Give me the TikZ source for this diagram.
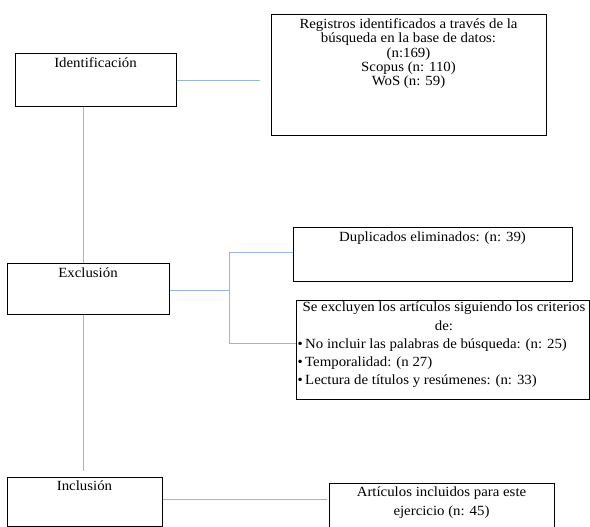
\documentclass[tikz,border=0pt]{standalone}
\usepackage{fontspec}
\setmainfont{Liberation Serif}[FakeStretch=1.06]
\definecolor{linkblue}{RGB}{150,180,230}
\begin{document}
\begin{tikzpicture}[x=1bp,y=-1bp,
  box/.style={draw=black, line width=1bp, inner sep=0pt, anchor=north west},
  conn/.style={draw=linkblue, line width=1bp},
  txt/.style={inner sep=0pt, anchor=north, align=center, font=\fontsize{14bp}{14.2bp}\selectfont},
  wide/.style={font=\fontsize{14bp}{18.3bp}\selectfont}]
\useasboundingbox (0,0) rectangle (590,527);
\clip (0,0) rectangle (590,527);

% boxes
\node[box, minimum width=161bp, minimum height=53bp] (ident) at (15,53) {};
\node[box, minimum width=275bp, minimum height=121bp] (reg) at (271,14) {};
\node[box, minimum width=162bp, minimum height=51bp] (excl) at (7,263) {};
\node[box, minimum width=279bp, minimum height=54bp] (dup) at (293,227) {};
\node[box, minimum width=293bp, minimum height=99bp] (crit) at (296,300) {};
\node[box, minimum width=155bp, minimum height=49bp] (incl) at (7,477) {};
\node[box, minimum width=225bp, minimum height=60bp] (art) at (329,483) {};

% texts
\node[txt] (identt) at (95.5,57) {Identificación};
\node[txt] (regt) at (408.5,18.6) {Registros identificados a través de la\\búsqueda en la base de datos:\\(n:169)\\Scopus (n: 110)\\WoS (n: 59)};
\node[txt] (exclt) at (88,267.6) {Exclusión};
\node[txt] (dupt) at (432.5,232) {Duplicados eliminados: (n: 39)};
\node[txt, wide] (critt) at (444,302) {Se excluyen los artículos siguiendo los criterios\\de:};
\node[txt, wide, anchor=north west, align=left] (critl) at (297.4,338.3) {•\kern2.4bp No incluir las palabras de búsqueda: (n: 25)\\•\kern2.4bp Temporalidad: (n 27)\\•\kern2.4bp Lectura de títulos y resúmenes: (n: 33)};
\node[txt] (inclt) at (84.5,481) {Inclusión};
\node[txt, font=\fontsize{14bp}{19bp}\selectfont] (artt) at (441.5,487) {Artículos incluidos para este\\ejercicio (n: 45)};

% connectors
\coordinate (e1) at (260,81);
\draw[conn] (ident.east |- e1) -- (e1);
\coordinate (vx) at (83.5,0);
\draw[conn] (ident.south -| vx) -- (excl.north -| vx);
\coordinate (v2) at (83.5,471);
\draw[conn] (excl.south -| v2) -- (v2);
\coordinate (j) at (229,290);
\coordinate (jt) at (229,252);
\coordinate (jb) at (229,343);
\draw[conn] (excl.east |- j) -- (j);
\draw[conn] (jt) -- (jb);
\draw[conn] (jt) -- (dup.west |- jt);
\draw[conn] (jb) -- (crit.west |- jb);
\coordinate (e3) at (327,499);
\draw[conn] (incl.east |- e3) -- (e3);
\end{tikzpicture}
\end{document}
